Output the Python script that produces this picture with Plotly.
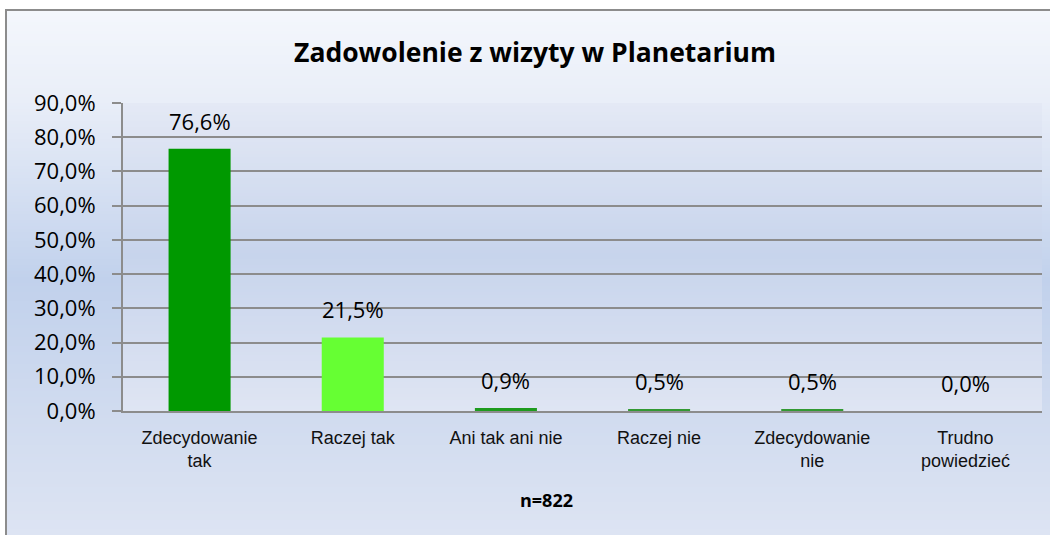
import plotly.graph_objects as go

# ---- data ----
categories = ["Zdecydowanie<br>tak", "Raczej tak", "Ani tak ani nie",
              "Raczej nie", "Zdecydowanie<br>nie", "Trudno<br>powiedzieć"]
values = [76.6, 21.5, 0.9, 0.5, 0.5, 0.0]
bar_colors = ["#009900", "#66FF33", "#1E9B1E", "#339933", "#339933", "#339933"]
y_ticks = [0, 10, 20, 30, 40, 50, 60, 70, 80, 90]
title_text = "Zadowolenie z wizyty w Planetarium"
n_text = "n=822"


def pct(v):
    return f"{v:.1f}".replace(".", ",") + "%"


y_tick_text = [pct(v) for v in y_ticks]

# ---- layout geometry (pixels) ----
W, H = 1050, 535
PL, PR, PT, PB = 123, 1042, 103, 411  # plot area box


def px_x(p):
    return (p - PL) / (PR - PL)


def px_y(p):
    return (PB - p) / (PB - PT)


def hex2rgb(h):
    h = h.lstrip("#")
    return tuple(int(h[i:i + 2], 16) for i in (0, 2, 4))


def interp(stops, p):
    for (p0, c0), (p1, c1) in zip(stops, stops[1:]):
        if p0 <= p <= p1:
            t = (p - p0) / (p1 - p0) if p1 > p0 else 0
            a, b = hex2rgb(c0), hex2rgb(c1)
            return "rgb(%d,%d,%d)" % tuple(round(a[i] + (b[i] - a[i]) * t) for i in range(3))
    return stops[-1][1] if p > stops[-1][0] else stops[0][1]


chart_stops = [(10, "#F4F7FC"), (100, "#E9EEF8"), (280, "#C1D1EC"), (411, "#D0DBEF"), (535, "#DDE4F3")]
plot_stops = [(103, "#E4E9F5"), (255, "#C7D4EC"), (411, "#DFE5F3")]

shapes = []
step = 3
p = 10
while p < 540:
    shapes.append(dict(type="rect", xref="paper", yref="paper", layer="below",
                       x0=px_x(6), x1=px_x(1060), y0=px_y(p + step + 0.5), y1=px_y(p),
                       fillcolor=interp(chart_stops, p + step / 2), line=dict(width=0)))
    p += step
p = PT
while p < PB:
    shapes.append(dict(type="rect", xref="paper", yref="paper", layer="below",
                       x0=0, x1=1, y0=px_y(min(p + step + 0.5, PB)), y1=px_y(p),
                       fillcolor=interp(plot_stops, p + step / 2), line=dict(width=0)))
    p += step
shapes.append(dict(type="rect", xref="paper", yref="paper", layer="below",
                   x0=px_x(6), x1=px_x(1070), y0=px_y(560), y1=px_y(10),
                   fillcolor="rgba(0,0,0,0)", line=dict(color="#8C8C8C", width=2)))

fig = go.Figure(go.Bar(x=categories, y=values, marker=dict(color=bar_colors, line=dict(width=0)),
                       hoverinfo="skip"))

annotations = []
for c, v in zip(categories, values):
    annotations.append(dict(x=c, y=v, xref="x", yref="y", text=pct(v),
                            showarrow=False, yanchor="bottom", yshift=11,
                            font=dict(family="Open Sans", size=22, color="#000")))
annotations.append(dict(x=px_x(546), y=px_y(500), xref="paper", yref="paper", text="<b>" + n_text + "</b>",
                        showarrow=False, xanchor="center", yanchor="middle",
                        font=dict(family="Open Sans", size=18, color="#000")))

fig.update_layout(
    width=W, height=H,
    margin=dict(l=PL, r=W - PR, t=PT, b=H - PB, pad=0),
    paper_bgcolor="white", plot_bgcolor="rgba(0,0,0,0)",
    bargap=0.595,
    showlegend=False,
    title=dict(text="<b>" + title_text + "</b>", x=535 / W, y=1 - 53 / H, xref="container", yref="container",
               xanchor="center", yanchor="middle", font=dict(family="Open Sans", size=26.5, color="#000")),
    shapes=shapes,
    annotations=annotations,
    xaxis=dict(showline=True, linecolor="#8C8C8C", linewidth=2, ticks="", showgrid=False,
               tickfont=dict(family="Liberation Sans", size=18, color="#111"), ticklabelstandoff=9),
    yaxis=dict(range=[0, 90], tickmode="array", tickvals=y_ticks, ticktext=y_tick_text,
               showline=True, linecolor="#8C8C8C", linewidth=2, ticks="outside", ticklen=9,
               tickcolor="#8C8C8C", tickwidth=2, showgrid=True, gridcolor="#8C8C8C", gridwidth=2,
               zeroline=False, tickfont=dict(family="Open Sans", size=22, color="#000"),
               ticklabelstandoff=12),
)

fig.write_html("out.html", config={"displayModeBar": False},
               post_script="document.body.style.margin='0';document.body.style.overflow='hidden';")
